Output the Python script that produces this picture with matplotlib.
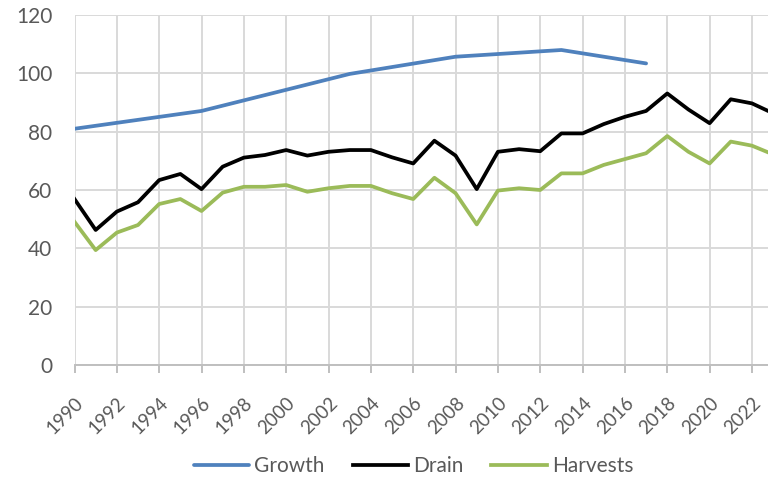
import numpy as np
import matplotlib.pyplot as plt
import matplotlib.transforms as mtransforms

#--------------------------------------
years          = np.arange(1990, 2024)
growthYears    = [1990, 1996, 2003, 2008, 2013, 2017]
growthData     = [81.0, 87.1, 99.8, 105.7, 108.0, 103.4]
drainData      = [56.9, 46.3, 52.6, 55.8, 63.4, 65.5, 60.3, 68.0, 71.1, 72.0,
                  73.7, 71.8, 73.1, 73.7, 73.7, 71.2, 69.1, 76.9, 71.8, 60.3,
                  73.1, 74.0, 73.3, 79.4, 79.4, 82.6, 85.1, 87.1, 93.1, 87.6,
                  82.9, 91.1, 89.7, 86.3]
harvestData    = [49.1, 39.4, 45.4, 48.0, 55.2, 56.9, 52.8, 59.1, 61.1, 61.1,
                  61.7, 59.4, 60.6, 61.4, 61.4, 58.9, 56.9, 64.2, 58.9, 48.2,
                  59.8, 60.6, 60.0, 65.7, 65.7, 68.6, 70.6, 72.6, 78.5, 73.1,
                  69.1, 76.6, 75.2, 72.2]
xTicks         = np.arange(1990, 2023, 2)
yTicks         = np.arange(0, 121, 20)
#--------------------------------------
plt.rcParams['font.family'] = ['Lato', 'DejaVu Sans']
textColor = '#595959'
gridColor = '#D9D9D9'

fig = plt.figure(figsize=(7.68, 4.78), dpi=100)
ax  = fig.add_axes([74.5/768, 1-365/478, 1-74.5/768, 350/478])

ax.plot(growthYears, growthData, color='#4F81BD', linewidth=2.7, label='Growth', solid_capstyle='round')
ax.plot(years, drainData, color='black', linewidth=2.7, label='Drain')
ax.plot(years, harvestData, color='#9BBB59', linewidth=2.7, label='Harvests')

ax.set_xlim(1990, 1990 + (768-74.5)/21.17)
ax.set_ylim(0, 120)
ax.set_xticks(xTicks)
ax.set_xticklabels([str(y) for y in xTicks], rotation=45, ha='right', va='top',
                   rotation_mode='anchor', fontsize=13.5, color=textColor)
# nudge rotated labels a bit to the right, like the original
shift = mtransforms.ScaledTranslation(4/100, 0, fig.dpi_scale_trans)
for lbl in ax.get_xticklabels():
    lbl.set_transform(lbl.get_transform() + shift)
ax.set_yticks(yTicks)
ax.set_yticklabels([str(v) for v in yTicks], fontsize=15, color=textColor)
ax.grid(True, color=gridColor, linewidth=1.4)
ax.set_axisbelow(True)
for s in ['top', 'right', 'left']:
    ax.spines[s].set_visible(False)
ax.spines['bottom'].set_color('#BFBFBF')
ax.spines['bottom'].set_linewidth(1.4)
ax.tick_params(axis='x', length=6, width=1.4, color='#BFBFBF', pad=15)
ax.tick_params(axis='y', length=0, pad=16)

fig.legend(loc='center', bbox_to_anchor=(413.5/768, 1-466/478), ncol=3, frameon=False,
           fontsize=15, handlelength=2.65, columnspacing=1.35, handletextpad=0.25,
           labelcolor=textColor)

fig.savefig('out.png', dpi=100)
